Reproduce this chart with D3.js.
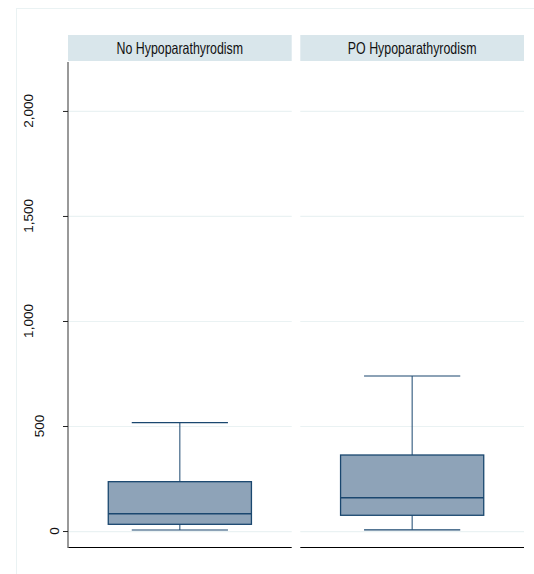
<!DOCTYPE html>
<html>
<head>
<meta charset="utf-8">
<script src="https://cdn.jsdelivr.net/npm/d3@7"></script>
<style>
  body { margin: 0; background: #fff; }
  svg { display: block; }
</style>
</head>
<body>
<svg id="chart" width="534" height="574"></svg>
<script>
// panel titles and box summaries
const groups = ['No Hypoparathyrodism', 'PO Hypoparathyrodism'];
const lowerWhisker = [5, 6];
const q1 = [32, 75];
const median = [82, 159];
const q3 = [235, 362];
const upperWhisker = [516, 738];
const yTicks = [0, 500, 1000, 1500, 2000];

const svg = d3.select('#chart');
const W = 534, H = 574;

// faint outer frame
svg.append('rect')
  .attr('x', 16.5).attr('y', 8.5)
  .attr('width', W).attr('height', H)
  .attr('fill', 'none')
  .attr('stroke', '#eaf2f3');

const plotTop = 62, plotBottom = 547;
const y = d3.scaleLinear().domain([-76, 2233]).range([plotBottom, plotTop]);

const panelX = d3.scaleBand()
  .domain(groups)
  .range([68, 524])
  .paddingInner(0.037);

const headerTop = 35, headerBottom = 61;

groups.forEach((g, i) => {
  const x0 = panelX(g);
  const pw = panelX.bandwidth();
  const cx = x0 + pw / 2;
  const panel = svg.append('g');

  // strip header (condensed look, no narrow font installed)
  panel.append('rect')
    .attr('x', x0).attr('y', headerTop)
    .attr('width', pw).attr('height', headerBottom - headerTop)
    .attr('fill', '#d9e6eb');
  const title = panel.append('text')
    .attr('x', cx).attr('y', 54)
    .attr('text-anchor', 'middle')
    .style('font-family', '"Liberation Sans", Arial, sans-serif')
    .style('font-size', '16.5px')
    .attr('fill', '#111')
    .text(g);
  const tw = title.node().getComputedTextLength();
  title.attr('textLength', tw * 0.75).attr('lengthAdjust', 'spacingAndGlyphs');

  // gridlines
  panel.append('g')
    .attr('transform', `translate(${x0},0)`)
    .call(d3.axisRight(y).tickValues(yTicks).tickSize(pw).tickFormat(''))
    .call(s => s.select('.domain').remove())
    .selectAll('.tick line')
    .attr('stroke', '#eaf2f3')
    .attr('stroke-width', 1.2);

  // bottom axis line
  panel.append('line')
    .attr('x1', x0).attr('x2', x0 + pw)
    .attr('y1', plotBottom + 0.5).attr('y2', plotBottom + 0.5)
    .attr('stroke', '#000')
    .attr('stroke-width', 1.2);

  // box plot
  const bw = pw * 0.64, cw = pw * 0.43;
  const col = '#1a476f';
  panel.append('line')
    .attr('x1', cx).attr('x2', cx)
    .attr('y1', y(upperWhisker[i])).attr('y2', y(q3[i]))
    .attr('stroke', col).attr('stroke-width', 1);
  panel.append('line')
    .attr('x1', cx).attr('x2', cx)
    .attr('y1', y(q1[i])).attr('y2', y(lowerWhisker[i]))
    .attr('stroke', col).attr('stroke-width', 1);
  [upperWhisker[i], lowerWhisker[i]].forEach(v => {
    panel.append('line')
      .attr('x1', cx - cw / 2).attr('x2', cx + cw / 2)
      .attr('y1', y(v)).attr('y2', y(v))
      .attr('stroke', col).attr('stroke-width', 1.2);
  });
  panel.append('rect')
    .attr('x', cx - bw / 2).attr('y', y(q3[i]))
    .attr('width', bw).attr('height', y(q1[i]) - y(q3[i]))
    .attr('fill', '#8ea3b8')
    .attr('stroke', col).attr('stroke-width', 1.3);
  panel.append('line')
    .attr('x1', cx - bw / 2).attr('x2', cx + bw / 2)
    .attr('y1', y(median[i])).attr('y2', y(median[i]))
    .attr('stroke', col).attr('stroke-width', 1.5);
});

// y axis: ticks from d3, labels placed by hand (rotated, pushed out by their length)
const yAxis = svg.append('g')
  .attr('transform', 'translate(68,0)')
  .call(d3.axisLeft(y).tickValues(yTicks).tickSize(5).tickFormat(''));
yAxis.select('.domain')
  .attr('d', `M0,${plotTop}V${plotBottom + 1}`)
  .attr('stroke', '#777')
  .attr('stroke-width', 1.5);
yAxis.selectAll('.tick line').attr('stroke', '#222');

const fmt = d3.format(',');
const ctx = document.createElement('canvas').getContext('2d');
ctx.font = '13.5px "Liberation Sans", Arial, sans-serif';
yTicks.forEach(v => {
  const label = fmt(v);
  const w = ctx.measureText(label).width;
  svg.append('text')
    .attr('transform', `translate(${66.5 - w},${y(v)}) rotate(-90)`)
    .style('font-family', '"Liberation Sans", Arial, sans-serif')
    .style('font-size', '13.5px')
    .attr('fill', '#111')
    .attr('text-anchor', 'middle')
    .text(label);
});
</script>
</body>
</html>
